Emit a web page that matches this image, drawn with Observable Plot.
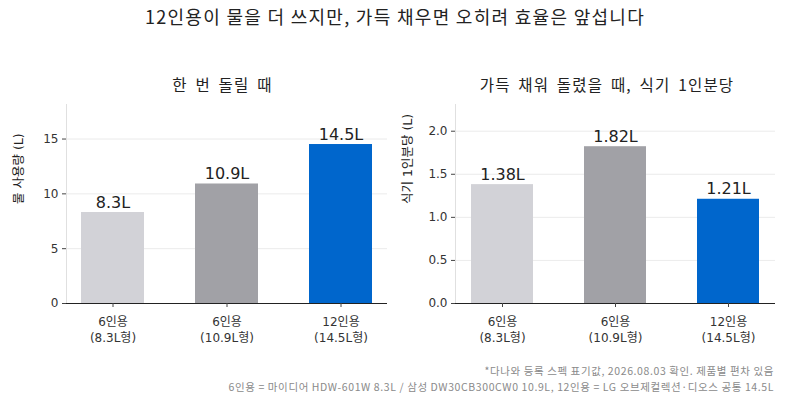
<!DOCTYPE html>
<html>
<head>
<meta charset="utf-8">
<script src="https://cdn.jsdelivr.net/npm/d3@7"></script>
<script src="https://cdn.jsdelivr.net/npm/@observablehq/plot@0.6"></script>
<style>
  html, body { margin: 0; padding: 0; background: #fff; }
  #wrap { position: relative; width: 790px; height: 400px; font-family: "DejaVu Sans", "Noto Sans CJK KR", sans-serif; color: #222; }
  #wrap svg, #wrap svg text { font-family: "DejaVu Sans", "Noto Sans CJK KR", sans-serif !important; }
  .abs { position: absolute; white-space: nowrap; }
  #title { left: 0; width: 790px; top: 3px; text-align: center; font-size: 18px; letter-spacing: 1.3px; font-family: "Noto Sans CJK KR", sans-serif; color: #222; }
  .sub { top: 73px; text-align: center; font-size: 15.5px; letter-spacing: 1.2px; word-spacing: 3px; font-family: "Noto Sans CJK KR", sans-serif; color: #222; }
  .note { right: 16px; font-size: 10.5px; letter-spacing: 0.6px; color: #8a8a8a; font-family: "Noto Sans CJK KR", sans-serif; }
  #p1 { left: 0; top: 95px; }
  #p2 { left: 395px; top: 95px; }
</style>
</head>
<body>
<div id="wrap">
  <div id="title" class="abs">12인용이 물을 더 쓰지만, 가득 채우면 오히려 효율은 앞섭니다</div>
  <div class="abs sub" style="left:62px;width:321px;">한 번 돌릴 때</div>
  <div class="abs sub" style="left:447px;width:320px;">가득 채워 돌렸을 때, 식기 1인분당</div>
  <div id="p1" class="abs"></div>
  <div id="p2" class="abs"></div>
  <div class="abs note" style="top:363px;">*다나와 등록 스펙 표기값, 2026.08.03 확인. 제품별 편차 있음</div>
  <div class="abs note" style="top:379px;">6인용 = 마이디어 HDW-601W 8.3L / 삼성 DW30CB300CW0 10.9L, 12인용 = LG 오브제컬렉션·디오스 공통 14.5L</div>
</div>
<script>
const categories = ["6인용\n(8.3L형)", "6인용\n(10.9L형)", "12인용\n(14.5L형)"];
const colors = ["#d2d2d7", "#a1a1a6", "#0066cc"];
const perCycle = [8.3, 10.9, 14.5];
const perCycleLabels = ["8.3L", "10.9L", "14.5L"];
const perPlace = [1.38, 1.82, 1.21];
const perPlaceLabels = ["1.38L", "1.82L", "1.21L"];
const ticksLeft = [0, 5, 10, 15];
const ticksRight = [0, 0.5, 1.0, 1.5, 2.0];

function panel(values, labels, ymax, ticks, fmt, ylabel, marginLeft, marginRight, labelX) {
  const data = categories.map((c, i) => ({cat: c, v: values[i], label: labels[i], color: colors[i]}));
  return Plot.plot({
    width: 395,
    height: 255,
    marginTop: 9,
    marginBottom: 47,
    marginLeft,
    marginRight,
    style: {fontFamily: '"DejaVu Sans", "Noto Sans CJK KR", sans-serif', fontSize: "12px", color: "#333", background: "#fff"},
    x: {domain: categories, paddingInner: 0.45, paddingOuter: 0.13, label: null},
    y: {domain: [0, ymax], label: null},
    marks: [
      Plot.gridY(ticks, {stroke: "#e6e6e6", strokeOpacity: 1, strokeWidth: 0.8}),
      Plot.frame({anchor: "left", stroke: "#e0e0e0"}),
      Plot.barY(data, {x: "cat", y: "v", fill: "color"}),
      Plot.text(data, {x: "cat", y: "v", text: "label", dy: -10, fontSize: 16, fill: "#222"}),
      Plot.ruleY([0], {stroke: "#222", strokeWidth: 1}),
      Plot.axisY(ticks, {tickFormat: fmt, tickSize: 4, tickPadding: 4, stroke: "#444", fill: "#333", fontSize: 12, label: null}),
      Plot.axisX({tickSize: 4, tickPadding: 7, stroke: "#444", fill: "#333", fontSize: 12, lineHeight: 1.35, label: null}),
      Plot.text([ylabel], {frameAnchor: "left", dx: labelX, rotate: -90, fontSize: 12.5, fill: "#222"})
    ]
  });
}

document.getElementById("p1").append(
  panel(perCycle, perCycleLabels, 18.15, ticksLeft, d3.format("d"), "물 사용량 (L)", 66, 8, -48)
);
document.getElementById("p2").append(
  panel(perPlace, perPlaceLabels, 2.31, ticksRight, d3.format(".1f"), "식기 1인분당 (L)", 60, 15, -48)
);
</script>
</body>
</html>
